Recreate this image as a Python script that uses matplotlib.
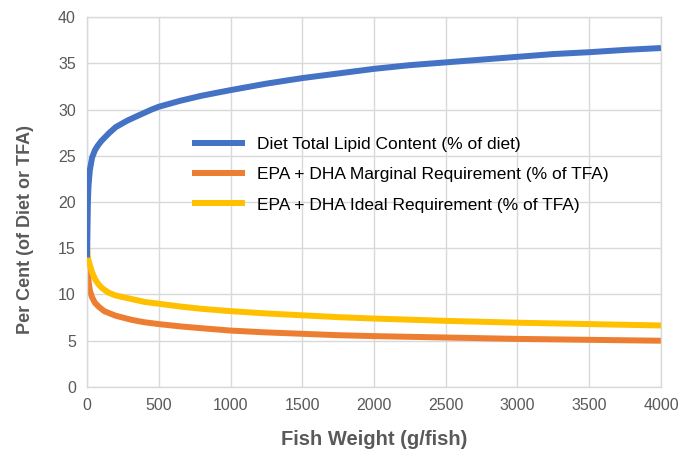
import matplotlib
matplotlib.use("Agg")
import matplotlib.pyplot as plt

plt.rcParams['font.family'] = ['Liberation Sans', 'DejaVu Sans']

# Fish weight (g/fish) sample points for each curve
blue_x = [0, 3, 6, 10, 14, 20, 35, 55, 75, 100, 150, 200, 280, 350, 400, 450, 500, 650, 800,
          1000, 1250, 1500, 1750, 2000, 2250, 2500, 2750, 3000, 3250, 3500, 3750, 4000]
lipid = [14.0, 17.0, 20.0, 21.7, 22.5, 23.5, 24.8, 25.6, 26.1, 26.6, 27.4, 28.1, 28.8,
         29.3, 29.65, 30.0, 30.3, 30.95, 31.5, 32.1, 32.8, 33.4, 33.9, 34.4, 34.8, 35.1,
         35.4, 35.7, 36.0, 36.2, 36.45, 36.65]

orange_x = [0, 3, 7, 12, 20, 35, 55, 80, 120, 200, 313, 400, 500, 650, 800, 1000,
            1250, 1500, 1750, 2000, 2500, 3000, 3500, 4000]
marginal = [13.7, 12.8, 12.2, 11.2, 10.4, 9.7, 9.1, 8.7, 8.2, 7.7, 7.25, 7.0, 6.8,
            6.55, 6.35, 6.1, 5.9, 5.75, 5.6, 5.5, 5.35, 5.2, 5.1, 5.0]

yellow_x = [0, 4, 10, 16, 25, 35, 58, 80, 104, 150, 197, 313, 400, 500, 650, 800,
            1000, 1250, 1500, 1750, 2000, 2500, 3000, 3500, 4000]
ideal = [15.5, 14.2, 13.7, 13.4, 12.9, 12.4, 11.6, 11.1, 10.7, 10.2, 9.9, 9.5, 9.2,
         9.0, 8.7, 8.45, 8.2, 7.95, 7.75, 7.55, 7.4, 7.15, 6.95, 6.8, 6.65]

labels = ["Diet Total Lipid Content (% of diet)",
          "EPA + DHA Marginal Requirement (% of TFA)",
          "EPA + DHA Ideal Requirement (% of TFA)"]
colors = ["#4472C4", "#ED7D31", "#FFC000"]

xticks = [0, 500, 1000, 1500, 2000, 2500, 3000, 3500, 4000]
yticks = [0, 5, 10, 15, 20, 25, 30, 35, 40]

fig = plt.figure(figsize=(6.8, 4.55), dpi=100)
ax = fig.add_axes([0.128, 0.1495, 0.844, 0.813])

lw = 4.3
l1, = ax.plot(blue_x, lipid, color=colors[0], lw=lw, zorder=4, solid_capstyle='butt')
l2, = ax.plot(orange_x, marginal, color=colors[1], lw=lw, zorder=2, solid_capstyle='butt')
l3, = ax.plot(yellow_x, ideal, color=colors[2], lw=lw, zorder=3, solid_capstyle='butt')

ax.set_xlim(0, 4000)
ax.set_ylim(0, 40)
ax.set_xticks(xticks)
ax.set_yticks(yticks)
ax.grid(True, color="#D9D9D9", lw=1)
ax.set_axisbelow(True)
for s in ax.spines.values():
    s.set_color("#D9D9D9")
    s.set_linewidth(1)
ax.tick_params(length=0, labelsize=11.5, labelcolor="#595959", pad=8)

ax.set_xlabel("Fish Weight (g/fish)", fontsize=14.5, fontweight='bold', color="#595959", labelpad=12)
ax.set_ylabel("Per Cent (of Diet or TFA)", fontsize=13, fontweight='bold', color="#595959")
ax.yaxis.set_label_coords(-0.093, 0.427)

ax.legend([l1, l2, l3], labels, loc='upper left', bbox_to_anchor=(0.183, 0.677),
          frameon=False, fontsize=12.5, handlelength=3.05, handletextpad=0.69,
          labelspacing=0.88, borderpad=0, borderaxespad=0)

fig.savefig("out.png", dpi=100)
